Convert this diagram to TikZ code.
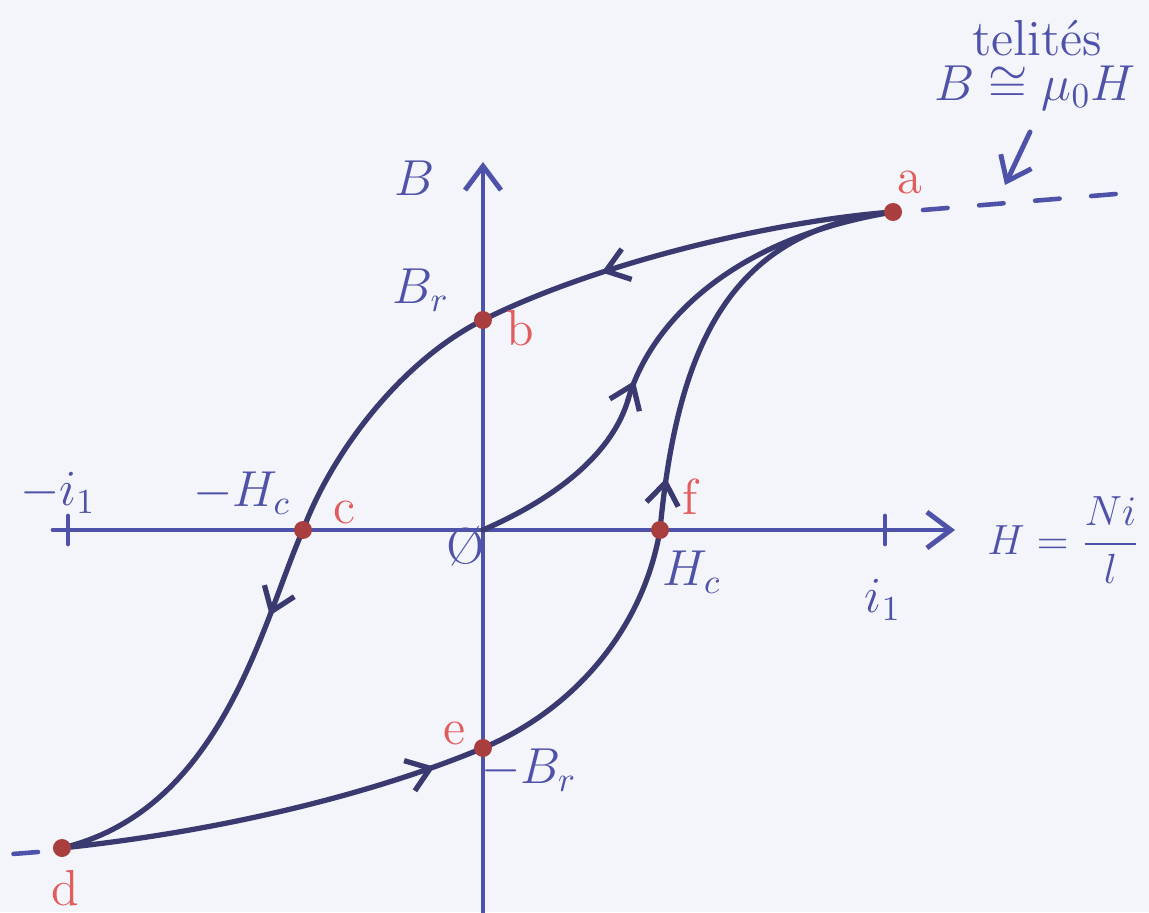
\documentclass[tikz,border=0pt]{standalone}
\usepackage{amsmath,amssymb}
\usetikzlibrary{arrows.meta,decorations.markings}

\definecolor{paper}{RGB}{244,245,250}
\definecolor{axisink}{RGB}{78,82,168}
\definecolor{loopink}{RGB}{58,58,112}
\definecolor{dotred}{RGB}{168,62,62}
\definecolor{labred}{RGB}{226,92,92}

\tikzset{
  axisline/.style={axisink, line width=1.4pt},
  loopline/.style={loopink, line width=1.5pt},
  satdash/.style={axisink, line width=1.3pt, dash pattern=on 7pt off 9pt},
  blulab/.style={axisink, font=\Large},
  redlab/.style={labred, font=\Large},
  midarrow/.style={postaction={decorate}, decoration={markings,
      mark=at position #1 with {\arrow{Straight Barb[length=2.2mm, width=3.2mm]}}}},
}

\begin{document}
\begin{tikzpicture}[line cap=round, line join=round]
  \useasboundingbox[fill=paper] (-4.83,-3.82) rectangle (6.66,5.30);

  %% --- axes ---
  \coordinate (Hstart) at (-4.30,0);
  \coordinate (Hend)   at (4.72,0);
  \coordinate (Bstart) at (0,-3.82);
  \coordinate (Bend)   at (0,3.68);
  \draw[axisline, -{Straight Barb[length=2.4mm, width=3.6mm]}] (Hstart) -- (Hend);
  \draw[axisline, -{Straight Barb[length=2.4mm, width=3.6mm]}] (Bstart) -- (Bend);
  \foreach \xpos in {-4.15, 4.02} {
    \draw[axisline] (\xpos,-0.14) -- (\xpos,0.14);
  }

  %% --- loop points ---
  \coordinate (O) at (0,0);
  \coordinate (a) at (4.10,3.18);
  \coordinate (b) at (0,2.10);
  \coordinate (c) at (-1.80,0);
  \coordinate (d) at (-4.21,-3.18);
  \coordinate (e) at (0,-2.18);
  \coordinate (f) at (1.77,0);
  \coordinate (m) at (1.45,1.30);

  %% first magnetisation
  \draw[loopline] (O) .. controls (0.80,0.35) and (1.30,0.80) .. (m);
  \draw[loopline, midarrow=0.06] (m) .. controls (1.65,2.00) and (2.40,2.90) .. (a);

  %% descending branch a -> b -> c -> d
  \draw[loopline, midarrow=0.70] (a) .. controls (3.00,3.10) and (1.20,2.70) .. (b);
  \draw[loopline] (b) .. controls (-0.80,1.70) and (-1.50,0.80) .. (c);
  \draw[loopline, midarrow=0.22] (c) .. controls (-2.20,-0.90) and (-2.60,-2.80) .. (d);

  %% ascending branch d -> e -> f -> a
  \draw[loopline, midarrow=0.88] (d) .. controls (-2.50,-3.00) and (-1.00,-2.60) .. (e);
  \draw[loopline] (e) .. controls (0.90,-1.80) and (1.60,-1.00) .. (f);
  \draw[loopline, midarrow=0.12] (f) .. controls (1.95,1.90) and (2.50,3.00) .. (a);

  %% saturation: dashed continuation
  \coordinate (satR0) at (4.40,3.20);
  \coordinate (satR1) at (6.57,3.38);
  \coordinate (satL0) at (-4.45,-3.22);
  \coordinate (satL1) at (-4.83,-3.25);
  \draw[satdash] (satR0) -- (satR1);
  \draw[satdash] (satL0) -- (satL1);

  \foreach \p in {a,b,c,d,e,f} {
    \fill[dotred] (\p) circle (0.09);
  }

  %% --- labels ---
  \node[redlab] (la) at (4.27,3.48) {a};
  \node[redlab] (lb) at (0.37,2.02) {b};
  \node[redlab] (lc) at (-1.38,0.18) {c};
  \node[redlab] (ld) at (-4.18,-3.58) {d};
  \node[redlab] (le) at (-0.28,-2.03) {e};
  \node[redlab] (lf) at (2.07,0.33) {f};

  \node[blulab] (lB)   at (-0.68,3.52) {$B$};
  \node[blulab] (lBr)  at (-0.62,2.40) {$B_r$};
  \node[blulab] (lmBr) at (0.46,-2.40) {$-B_r$};
  \node[blulab] (lmHc) at (-2.41,0.37) {$-H_c$};
  \node[blulab] (lHc)  at (2.09,-0.42) {$H_c$};
  \node[blulab] (lmi)  at (-4.25,0.37) {$-i_1$};
  \node[blulab] (li)   at (4.00,-0.70) {$i_1$};
  \node[blulab] (lO)   at (-0.17,-0.16) {\O};
  \node[blulab, font=\large, anchor=west] (lH) at (4.92,-0.10) {$H=\dfrac{Ni}{l}$};

  %% saturation note
  \node[blulab, inner sep=0pt] (sattext) at (5.54,4.92) {telités};
  \node[blulab, inner sep=0pt] (satform) at (5.52,4.42) {$B\cong\mu_0H$};
  \coordinate (satfrom) at (5.47,3.98);
  \coordinate (satpt) at (5.22,3.45);
  \draw[axisline, -{Straight Barb[length=2.2mm, width=3.4mm]}] (satfrom) -- (satpt);
\end{tikzpicture}
\end{document}
